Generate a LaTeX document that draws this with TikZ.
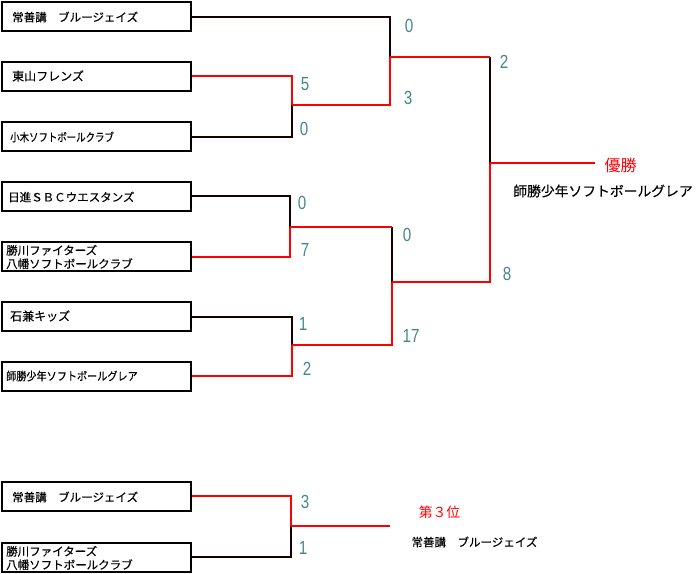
\documentclass[tikz,border=0pt]{standalone}
\usepackage{fontspec}
\usepackage{graphicx}
\setmainfont{Noto Sans CJK JP}[FakeBold=0.3]
\newfontfamily\plainfont{Noto Sans CJK JP}
\newfontfamily\digitfont{Liberation Sans}
\definecolor{scorecol}{RGB}{70,135,135}
\definecolor{winred}{RGB}{255,0,0}
\definecolor{loseblk}{RGB}{25,0,0}
\newcommand\scoretxt[1]{\scalebox{0.8}[1]{#1}}
\newcommand\narrowtxt[2]{\scalebox{#1}[1]{#2}}
\begin{document}
\begin{tikzpicture}[x=1pt,y=-1pt,
  teambox/.style={draw=black, line width=2pt, minimum width=189pt, minimum height=29pt, inner sep=0pt},
  teamtext/.style={anchor=west, inner sep=0pt, font=\fontsize{11.5}{13.5}\selectfont, align=left},
  score/.style={inner sep=0pt, font=\digitfont\fontsize{19}{19}\selectfont, text=scorecol},
  winline/.style={draw=winred, line width=2pt},
  loseline/.style={draw=loseblk, line width=2pt},
  redlabel/.style={inner sep=0pt, text=winred},
  blacklabel/.style={inner sep=0pt, text=black},
]
\useasboundingbox (0,0) rectangle (696,573);

% team boxes
\node[teambox] (t1) at (96.5,16.5) {};
\node[teambox] (t2) at (96.5,76) {};
\node[teambox] (t3) at (96.5,136.5) {};
\node[teambox] (t4) at (96.5,196) {};
\node[teambox] (t5) at (96.5,256.5) {};
\node[teambox] (t6) at (96.5,316.5) {};
\node[teambox] (t7) at (96.5,376) {};
\node[teambox] (t8) at (96.5,496) {};
\node[teambox] (t9) at (96.5,557) {};

% team names
\node[teamtext] (n1) at (12,17) {常善講　ブルージェイズ};
\node[teamtext, font=\fontsize{12}{13.5}\selectfont] (n2) at (12,76) {東山フレンズ};
\node[teamtext] (n3) at (10,137) {\narrowtxt{0.82}{小木ソフトボールクラブ}};
\node[teamtext] (n4) at (8,197) {日進ＳＢＣウエスタンズ};
\node[teamtext] (n5) at (6,257) {勝川ファイターズ\\八幡ソフトボールクラブ};
\node[teamtext, font=\fontsize{12}{13.5}\selectfont] (n6) at (10,316) {石兼キッズ};
\node[teamtext] (n7) at (6,376) {\narrowtxt{0.88}{師勝少年ソフトボールグレア}};
\node[teamtext] (n8) at (12,497) {常善講　ブルージェイズ};
\node[teamtext] (n9) at (6,558) {勝川ファイターズ\\八幡ソフトボールクラブ};

% joints
\coordinate (q1) at (292,105);
\coordinate (q2) at (290,227);
\coordinate (q3) at (292,345);
\coordinate (s1) at (390,57);
\coordinate (s2t) at (392,227);
\coordinate (s2) at (392,282);
\coordinate (ft) at (490,57);
\coordinate (f) at (490,163);
\coordinate (champ) at (595,163);
\coordinate (b1) at (291,526);
\coordinate (third) at (390,526);

% losing paths
\draw[loseline] (t1.east) -| (s1);
\draw[loseline] (t3.east) -| (q1);
\draw[loseline] (t4.east) -| (q2);
\draw[loseline] (t6.east) -| (q3);
\draw[loseline] (s2t) -- (s2);
\draw[loseline] (ft) -- (f);
\draw[loseline] (t9.east) -| (b1);

% winning paths
\draw[winline] (t2.east) -| (q1);
\draw[winline] (q1) -| (s1);
\draw[winline] (s1) -- (ft);
\draw[winline] (t5.east) -| (q2);
\draw[winline] (q2) -- (s2t);
\draw[winline] (t7.east) -| (q3);
\draw[winline] (q3) -| (s2);
\draw[winline] (s2) -| (f);
\draw[winline] (f) -- (champ);
\draw[winline] (t8.east) -| (b1);
\draw[winline] (b1) -- (third);

% scores
\node[score] (c1) at (305,84) {\scoretxt{5}};
\node[score] (c2) at (304,129) {\scoretxt{0}};
\node[score] (c3) at (302,203) {\scoretxt{0}};
\node[score] (c4) at (305,250) {\scoretxt{7}};
\node[score] (c5) at (303,324) {\scoretxt{1}};
\node[score] (c6) at (307,369) {\scoretxt{2}};
\node[score] (c7) at (409,26) {\scoretxt{0}};
\node[score] (c8) at (408,98) {\scoretxt{3}};
\node[score] (c9) at (407,235) {\scoretxt{0}};
\node[score] (c10) at (411,336) {\scoretxt{17}};
\node[score] (c11) at (504,62) {\scoretxt{2}};
\node[score] (c12) at (507,274) {\scoretxt{8}};
\node[score] (c13) at (305,502) {\scoretxt{3}};
\node[score] (c14) at (303,548) {\scoretxt{1}};

% results
\node[redlabel, font=\plainfont\fontsize{16}{16}\selectfont] (w) at (620.5,165) {優勝};
\node[blacklabel, font=\fontsize{13.8}{14}\selectfont] (wn) at (603,191) {師勝少年ソフトボールグレア};
\node[redlabel, font=\plainfont\fontsize{13.8}{14}\selectfont] (p3) at (439.5,512) {第３位};
\node[blacklabel, font=\fontsize{11.5}{12}\selectfont] (p3n) at (474.5,542) {常善講　ブルージェイズ};
\end{tikzpicture}
\end{document}
